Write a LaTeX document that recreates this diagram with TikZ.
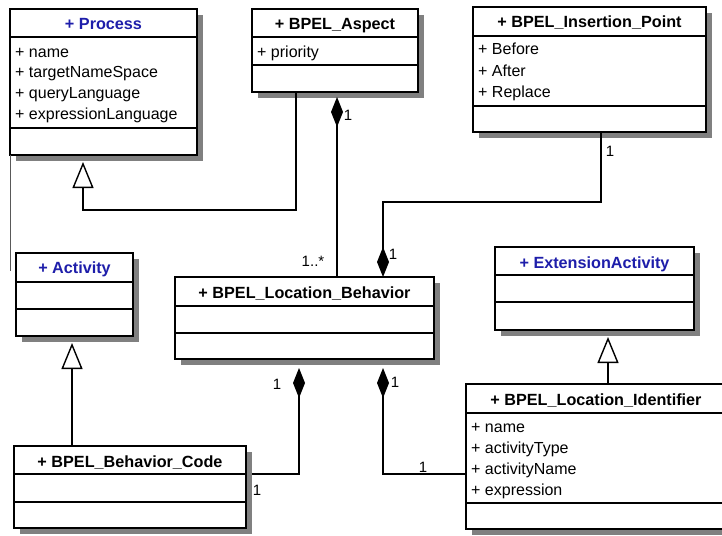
\documentclass[tikz,border=0pt]{standalone}
\usepackage{fontspec}
\setmainfont{Liberation Sans}
\usetikzlibrary{arrows.meta,calc}
\definecolor{umlblue}{RGB}{30,30,170}
\definecolor{shadowgray}{RGB}{128,128,128}
\tikzset{
  classbox/.style={draw, line width=1.6pt, fill=white, inner sep=0pt, outer sep=0pt, anchor=north west},
  divider/.style={line width=1.4pt},
  shadowbox/.style={fill=shadowgray},
  ctitle/.style={font=\fontsize{16.2}{19}\selectfont\bfseries, inner sep=0pt, anchor=base},
  attr/.style={font=\fontsize{16}{19}\selectfont, inner sep=0pt, anchor=base west},
  mult/.style={font=\fontsize{15}{18}\selectfont, inner sep=0pt},
  conn/.style={line width=1.4pt},
  gen/.style={conn, -{Triangle[length=26pt, width=21pt, fill=white]}},
  compS/.style={conn, {Diamond[length=30pt, width=12pt]}-},
  compE/.style={conn, -{Diamond[length=30pt, width=12pt]}},
  stray/.style={line width=1pt, black!65},
}
% name, L, T, R, B, div1, div2, title baseline, title
\newcommand\umlclass[9]{%
  \fill[shadowbox] (#2+6,#3+6) rectangle (#4+6,#5+6);
  \node[classbox, minimum width={(#4-#2)*1pt}, minimum height={(#5-#3)*1pt}] (#1) at (#2,#3) {};
  \draw[divider] (#2,#6) -- (#4,#6) (#2,#7) -- (#4,#7);
  \node[ctitle] (#1-t) at ({(#2+#4)/2},#8) {#9};
}
\begin{document}
\begin{tikzpicture}[x=1pt,y=-1pt]
\useasboundingbox (0,0) rectangle (722,535);

% classes
\umlclass{proc}{10}{9}{197}{155}{37}{128}{30}{\color{umlblue}+ Process}
\node[attr] (proc-a1) at (15,57) {+ name};
\node[attr] (proc-a2) at (15,77.7) {+ targetNameSpace};
\node[attr] (proc-a3) at (15,98.3) {+ queryLanguage};
\node[attr] (proc-a4) at (15,119) {+ expressionLanguage};

\umlclass{asp}{252}{9}{418}{92}{37}{65}{30}{+ BPEL\_Aspect}
\node[attr] (asp-a1) at (257,57) {+ priority};

\umlclass{ins}{473}{7}{706}{132}{36}{106}{28}{+ BPEL\_Insertion\_Point}
\node[attr] (ins-a1) at (478,55) {+ Before};
\node[attr] (ins-a2) at (478,76) {+ After};
\node[attr] (ins-a3) at (478,97) {+ Replace};

\umlclass{act}{16}{253}{133}{336}{282}{309}{273}{\color{umlblue}+ Activity}

\umlclass{lb}{175}{277}{434}{359}{306}{333}{298}{+ BPEL\_Location\_Behavior}

\umlclass{ext}{495}{247}{694}{330}{275}{302}{268}{\color{umlblue}+ ExtensionActivity}

\umlclass{lid}{466}{384}{726}{529}{413}{503}{405}{+ BPEL\_Location\_Identifier}
\node[attr] (lid-a1) at (471,432) {+ name};
\node[attr] (lid-a2) at (471,453) {+ activityType};
\node[attr] (lid-a3) at (471,474) {+ activityName};
\node[attr] (lid-a4) at (471,495) {+ expression};

\umlclass{bc}{14}{446}{246}{528}{474}{502}{467}{+ BPEL\_Behavior\_Code}

% stray line below Process
\coordinate (strayend) at (10,271);
\draw[stray] (proc.south west) -- (strayend);

% generalisations
\draw[gen, shorten >=7pt] ($(asp.south west)+(44,0)$) -- ++(0,118) -| ($(proc.south west)+(73,0)$);
\draw[gen, shorten >=7pt] ($(bc.north west)+(58,0)$) -- ($(act.south west)+(56,0)$);
\draw[gen, shorten >=7pt] ($(lid.north west)+(142,0)$) -- ($(ext.south west)+(113,0)$);

% compositions
\draw[compS, shorten <=5pt] ($(asp.south west)+(85,0)$) -- ($(lb.north west)+(162,0)$);
\draw[compE] ($(ins.south west)+(128,0)$) -- ++(0,70) -| ($(lb.north west)+(208,0)$);
\draw[compS, shorten <=9pt, shorten >=6pt] ($(lb.south west)+(124,0)$) |- ($(bc.north east)+(0,28)$);
\draw[compS, shorten <=9pt] ($(lb.south west)+(208,0)$) |- ($(lid.north west)+(0,90)$);

% multiplicities
\node[mult] (m1) at (348,115) {1};
\node[mult] (m2) at (313,261) {1..*};
\node[mult] (m3) at (610,151) {1};
\node[mult] (m4) at (393,254) {1};
\node[mult] (m5) at (277,384) {1};
\node[mult] (m6) at (257,490) {1};
\node[mult] (m7) at (395,382) {1};
\node[mult] (m8) at (423,467) {1};
\end{tikzpicture}
\end{document}
